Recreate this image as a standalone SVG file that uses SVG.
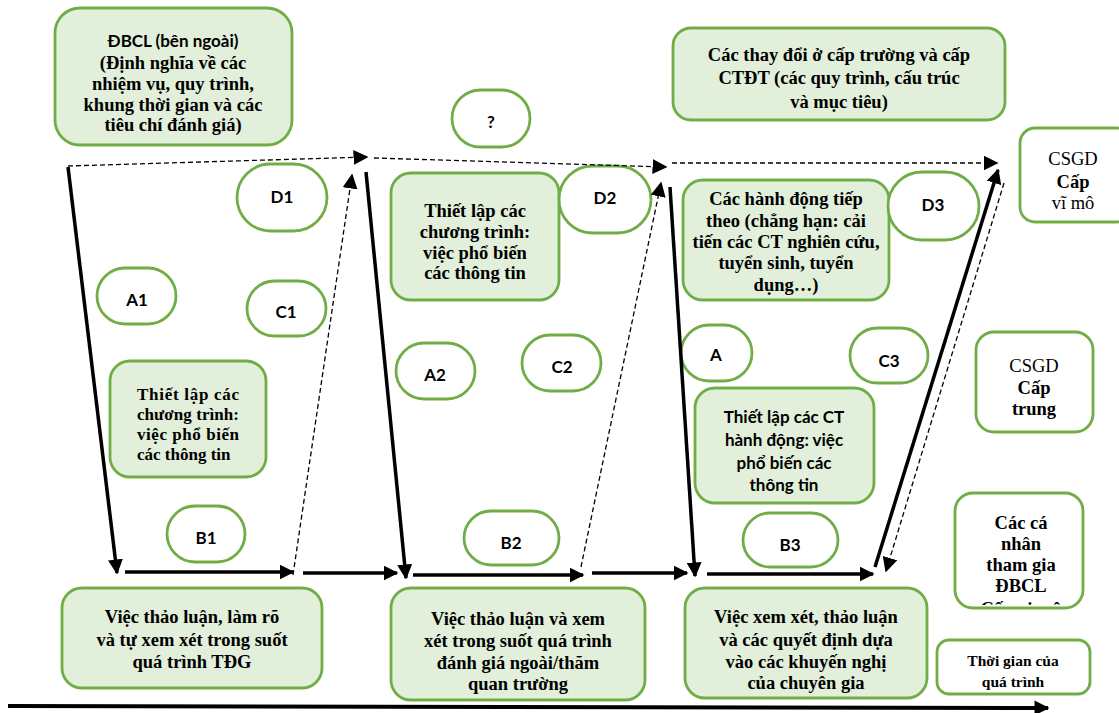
<svg xmlns="http://www.w3.org/2000/svg" width="1119" height="713" viewBox="0 0 1119 713">
<style>
.g{fill:#e2efda;stroke:#70ad47;stroke-width:2.8}
.w{fill:#ffffff;stroke:#70ad47;stroke-width:2.8}
.s{font-family:"Liberation Serif","Times New Roman",serif;font-weight:bold;font-size:18.5px;fill:#000;text-anchor:middle}
.sr{font-family:"Liberation Serif","Times New Roman",serif;font-size:18.5px;fill:#000;text-anchor:middle}
.sb{font-family:"Liberation Serif","Times New Roman",serif;font-weight:bold;font-size:18.5px;fill:#000;text-anchor:middle}
.c{font-family:Lato,"Liberation Sans",sans-serif;font-weight:bold;font-size:17px;fill:#000;text-anchor:middle}
.solid{stroke:#000;stroke-width:3.5;fill:none;marker-end:url(#ah)}
.dash{stroke:#000;stroke-width:1.3;stroke-dasharray:5,3;fill:none}
.da{marker-end:url(#ah)}
</style>
<defs>
<marker id="ah" viewBox="0 0 10 10" refX="9" refY="5" markerWidth="15" markerHeight="15" markerUnits="userSpaceOnUse" orient="auto">
<path d="M0,0 L10,5 L0,10 z" fill="#000"/>
</marker>
<clipPath id="clipCN"><rect x="956" y="494" width="126" height="111" rx="17"/></clipPath>
</defs>

<g id="n-dbcl">
<rect class="g" x="55" y="8" width="237" height="137" rx="25"/>
<text class="c" x="173" y="47">ĐBCL (bên ngoài)</text>
<text class="s" x="173" y="69">(Định nghĩa về các</text>
<text class="s" x="173" y="90">nhiệm vụ, quy trình,</text>
<text class="s" x="173" y="111">khung thời gian và các</text>
<text class="s" x="173" y="131">tiêu chí đánh giá)</text>
</g>

<g id="n-q">
<rect class="w" x="452" y="90" width="78" height="57" rx="28.5"/>
<text class="c" x="491" y="128">?</text>
</g>

<g id="n-thaydoi">
<rect class="g" x="673" y="28" width="332" height="92" rx="18"/>
<text class="s" x="839" y="61">Các thay đổi ở cấp trường và cấp</text>
<text class="s" x="839" y="84">CTĐT (các quy trình, cấu trúc</text>
<text class="s" x="839" y="108">và mục tiêu)</text>
</g>

<g id="n-csgd-vimo">
<rect class="w" x="1020" y="128" width="112" height="94" rx="15"/>
<text class="sr" x="1073" y="165">CSGD</text>
<text class="sb" x="1073" y="188">Cấp</text>
<text class="sr" x="1073" y="209">vĩ mô</text>
</g>

<g id="n-d1">
<rect class="w" x="237" y="164" width="90" height="67" rx="33.5"/>
<text class="c" x="282" y="203">D1</text>
</g>

<g id="n-thietlap2">
<rect class="g" x="391" y="173" width="168" height="127" rx="20"/>
<text class="s" x="475" y="217">Thiết lập các</text>
<text class="s" x="475" y="238">chương trình:</text>
<text class="s" x="475" y="259">việc phổ biến</text>
<text class="s" x="475" y="279">các thông tin</text>
</g>

<g id="n-d2">
<rect class="w" x="559" y="166" width="92" height="67" rx="33.5"/>
<text class="c" x="605" y="204">D2</text>
</g>

<g id="n-hanhdong">
<rect class="g" x="683" y="180" width="206" height="120" rx="20"/>
<text class="s" x="786" y="205">Các hành động tiếp</text>
<text class="s" x="786" y="227">theo (chẳng hạn: cải</text>
<text class="s" x="786" y="248">tiến các CT nghiên cứu,</text>
<text class="s" x="786" y="269">tuyển sinh, tuyển</text>
<text class="s" x="786" y="291">dụng…)</text>
</g>

<g id="n-d3">
<rect class="w" x="888" y="172" width="91" height="68" rx="34"/>
<text class="c" x="933" y="211">D3</text>
</g>

<g id="n-a1">
<rect class="w" x="97" y="268" width="79" height="56" rx="28"/>
<text class="c" x="137" y="306">A1</text>
</g>

<g id="n-c1">
<rect class="w" x="247" y="281" width="79" height="55" rx="27.5"/>
<text class="c" x="286" y="318">C1</text>
</g>

<g id="n-thietlap1">
<rect class="g" x="110" y="361" width="156" height="116" rx="20"/>
<text class="s" style="text-anchor:start;font-size:17px" x="137" y="400" textLength="102" lengthAdjust="spacing">Thiết lập các</text>
<text class="s" style="text-anchor:start;font-size:17px" x="137" y="420" textLength="102" lengthAdjust="spacing">chương trình:</text>
<text class="s" style="text-anchor:start;font-size:17px" x="137" y="440" textLength="102" lengthAdjust="spacing">việc phổ biến</text>
<text class="s" style="text-anchor:start;font-size:17px" x="137" y="460">các thông tin</text>
</g>

<g id="n-b1">
<rect class="w" x="167" y="506" width="78" height="56" rx="28"/>
<text class="c" x="206" y="544">B1</text>
</g>

<g id="n-a2">
<rect class="w" x="396" y="343" width="79" height="56" rx="28"/>
<text class="c" x="435" y="381">A2</text>
</g>

<g id="n-c2">
<rect class="w" x="522" y="335" width="79" height="56" rx="28"/>
<text class="c" x="562" y="373">C2</text>
</g>

<g id="n-b2">
<rect class="w" x="464" y="511" width="95" height="54" rx="27"/>
<text class="c" x="511" y="549">B2</text>
</g>

<g id="n-a3">
<rect class="w" x="681" y="325" width="71" height="56" rx="28"/>
<text class="c" x="716" y="361">A</text>
</g>

<g id="n-c3">
<rect class="w" x="850" y="328" width="78" height="55" rx="27.5"/>
<text class="c" x="889" y="367">C3</text>
</g>

<g id="n-thietlap3">
<rect class="g" x="695" y="388" width="179" height="115" rx="20"/>
<text class="c" x="784" y="423">Thiết lập các CT</text>
<text class="c" x="784" y="446">hành động: việc</text>
<text class="c" x="784" y="469">phổ biến các</text>
<text class="c" x="784" y="491">thông tin</text>
</g>

<g id="n-b3">
<rect class="w" x="743" y="513" width="95" height="54" rx="27"/>
<text class="c" x="790" y="551">B3</text>
</g>

<g id="n-csgd-trung">
<rect class="w" x="976" y="332" width="117" height="100" rx="18"/>
<text class="sr" x="1034" y="372">CSGD</text>
<text class="sb" x="1034" y="394">Cấp</text>
<text class="sb" x="1034" y="415">trung</text>
</g>

<g id="n-canhan">
<rect class="w" x="955" y="493" width="128" height="115" rx="18"/>
<g clip-path="url(#clipCN)">
<text class="sb" x="1021" y="529">Các cá</text>
<text class="sb" x="1021" y="550">nhân</text>
<text class="sb" x="1021" y="571">tham gia</text>
<text class="sb" x="1021" y="592">ĐBCL</text>
<text class="sb" x="1021" y="615">Cấp vi mô</text>
</g>
</g>

<g id="n-thaoluan1">
<rect class="g" x="62" y="588" width="260" height="100" rx="20"/>
<text class="s" x="192" y="623">Việc thảo luận, làm rõ</text>
<text class="s" x="192" y="646">và tự xem xét trong suốt</text>
<text class="s" x="192" y="668">quá trình TĐG</text>
</g>

<g id="n-thaoluan2">
<rect class="g" x="391" y="588" width="254" height="112" rx="20"/>
<text class="s" x="518" y="625">Việc thảo luận và xem</text>
<text class="s" x="518" y="647">xét trong suốt quá trình</text>
<text class="s" x="518" y="669">đánh giá ngoài/thăm</text>
<text class="s" x="518" y="690">quan trường</text>
</g>

<g id="n-xemxet3">
<rect class="g" x="685" y="588" width="242" height="110" rx="20"/>
<text class="s" x="806" y="623">Việc xem xét, thảo luận</text>
<text class="s" x="806" y="646">và các quyết định dựa</text>
<text class="s" x="806" y="668">vào các khuyến nghị</text>
<text class="s" x="806" y="689">của chuyên gia</text>
</g>

<g id="n-thoigian">
<rect class="w" x="937" y="640" width="153" height="54" rx="12"/>
<text class="s" style="font-size:15.5px" x="1013" y="666">Thời gian của</text>
<text class="s" style="font-size:15.5px" x="1013" y="687">quá trình</text>
</g>

<g id="connectors">
<line class="solid" x1="68" y1="167" x2="117" y2="573"/>
<line class="solid" x1="125" y1="572" x2="293" y2="572"/>
<line class="solid" x1="303" y1="573" x2="397" y2="573"/>
<line class="solid" x1="366" y1="172" x2="406" y2="578"/>
<line class="solid" x1="413" y1="575" x2="583" y2="575"/>
<line class="solid" x1="592" y1="573" x2="687" y2="573"/>
<line class="solid" x1="670" y1="187" x2="695" y2="576"/>
<line class="solid" x1="707" y1="574" x2="873" y2="574"/>
<line class="solid" x1="875" y1="567" x2="998" y2="170"/>
<line class="dash da" x1="68" y1="166" x2="367" y2="157"/>
<line class="dash da" x1="374" y1="158" x2="666" y2="167"/>
<line class="dash da" x1="672" y1="163" x2="997" y2="163"/>
<line class="dash da" x1="293" y1="575" x2="352" y2="175"/>
<line class="dash da" x1="581" y1="567" x2="661" y2="183"/>
<line class="dash da" x1="1004" y1="183" x2="886" y2="571"/>
<line class="solid" style="stroke-width:4" x1="8" y1="706" x2="1048" y2="708"/>
</g>
</svg>
